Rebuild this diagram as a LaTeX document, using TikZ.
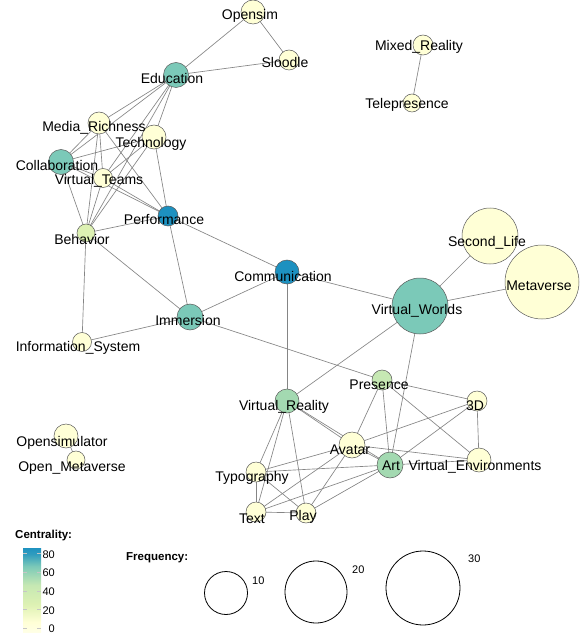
\documentclass[tikz,border=0pt]{standalone}
\usepackage{fontspec}
\setmainfont{Liberation Sans}
\usetikzlibrary{backgrounds}
\definecolor{cY}{HTML}{FFFFD6}
\definecolor{cBeh}{HTML}{DDF1B3}
\definecolor{cPre}{HTML}{C6E8B3}
\definecolor{cGr}{HTML}{A3D9B1}
\definecolor{cTeal}{HTML}{7BC9B8}
\definecolor{cBlue}{HTML}{1D91C0}
\definecolor{edgec}{HTML}{858585}
\definecolor{nodeline}{HTML}{5A5A5A}
\pgfdeclareverticalshading{cbar}{18pt}{
  color(0pt)=(cY!60!white); color(10pt)=(cY); color(28pt)=(cBeh); color(47pt)=(cPre); color(66pt)=(cTeal); color(78pt)=(cBlue!80!cTeal); color(85pt)=(cBlue)}
\tikzset{
  vn/.style 2 args={circle,draw=nodeline,fill=#2,minimum size=#1pt,inner sep=0pt,line width=0.5pt},
  lab/.style={anchor=base,inner sep=0pt,font=\fontsize{14}{14}\selectfont,text=black},
  edge/.style={draw=edgec,line width=0.65pt},
  legt/.style={inner sep=0pt,font=\fontsize{11.5}{11.5}\selectfont\bfseries},
  legn/.style={inner sep=0pt,font=\fontsize{11}{11}\selectfont,anchor=base},
  legc/.style={circle,draw=black,line width=0.8pt,inner sep=0pt,minimum size=#1pt}
}
\begin{document}
\begin{tikzpicture}[x=1pt,y=-1pt]
\useasboundingbox (0,0) rectangle (583,636);
\begin{scope}[on background layer]
\fill[white] (0,0) rectangle (583,636);
\end{scope}
% circles
\node[vn={24}{cY}] (opensim) at (253,12) {};
\node[vn={20}{cY}] (sloodle) at (289,60) {};
\node[vn={25}{cTeal}] (education) at (176,75) {};
\node[vn={22}{cY}] (mediarich) at (99,123) {};
\node[vn={24}{cY}] (technology) at (154,137) {};
\node[vn={25}{cTeal}] (collab) at (61,162) {};
\node[vn={19}{cY}] (vteams) at (103,178) {};
\node[vn={20}{cBlue}] (performance) at (168,216) {};
\node[vn={18}{cBeh}] (behavior) at (86,233) {};
\node[vn={26}{cTeal}] (immersion) at (190,317) {};
\node[vn={24}{cBlue}] (communication) at (287,272) {};
\node[vn={19}{cY}] (infosys) at (82,342) {};
\node[vn={56}{cY}] (secondlife) at (490,236) {};
\node[vn={74}{cY}] (metaverse) at (542,282) {};
\node[vn={56}{cTeal}] (vworlds) at (420,306) {};
\node[vn={20}{cPre}] (presence) at (382,380) {};
\node[vn={20}{cY}] (threed) at (477,401) {};
\node[vn={24}{cGr}] (vreality) at (287,401) {};
\node[vn={26}{cY}] (avatar) at (352,445) {};
\node[vn={26}{cGr}] (art) at (390,465) {};
\node[vn={24}{cY}] (venv) at (479,460) {};
\node[vn={20}{cY}] (typography) at (256,472) {};
\node[vn={20}{cY}] (text) at (256,512) {};
\node[vn={20}{cY}] (play) at (306,513) {};
\node[vn={24}{cY}] (opensimulator) at (66,436) {};
\node[vn={18}{cY}] (openmeta) at (76,460) {};
\node[vn={20}{cY}] (mixedreal) at (423,45) {};
\node[vn={18}{cY}] (telepres) at (412,103) {};
% edges
\begin{scope}[on background layer]
\foreach \a/\b in {opensim/education,opensim/sloodle,sloodle/education,
  education/mediarich,education/collab,education/technology,education/vteams,education/behavior,
  mediarich/collab,mediarich/vteams,mediarich/behavior,mediarich/performance,
  collab/technology,collab/vteams,collab/behavior,collab/performance,
  technology/vteams,technology/behavior,technology/performance,
  vteams/behavior,vteams/performance,
  performance/behavior,performance/immersion,performance/communication,
  behavior/immersion,behavior/infosys,immersion/infosys,
  immersion/communication,immersion/presence,
  communication/vworlds,communication/vreality,
  vworlds/secondlife,vworlds/metaverse,vworlds/vreality,vworlds/art,
  presence/threed,presence/avatar,presence/art,presence/venv,
  threed/venv,threed/avatar,threed/art,
  vreality/avatar,vreality/art,vreality/typography,vreality/text,vreality/play,
  avatar/art,avatar/venv,avatar/typography,avatar/text,avatar/play,
  art/venv,art/typography,art/text,art/play,
  typography/text,typography/play,text/play,
  mixedreal/telepres,opensimulator/openmeta}
  \draw[edge] (\a.center) -- (\b.center);
\end{scope}
% labels
\node[lab] (l-opensim) at (250,19.5) {Opensim};
\node[lab] (l-sloodle) at (285,68) {Sloodle};
\node[lab] (l-education) at (172,84) {Education};
\node[lab] (l-mediarich) at (94,132) {Media\_Richness};
\node[lab] (l-technology) at (151,148) {Technology};
\node[lab] (l-collab) at (57,171) {Collaboration};
\node[lab] (l-vteams) at (99,185) {Virtual\_Teams};
\node[lab] (l-performance) at (164,224) {Performance};
\node[lab] (l-behavior) at (82,244) {Behavior};
\node[lab] (l-immersion) at (188,325) {Immersion};
\node[lab] (l-communication) at (283,281) {Communication};
\node[lab] (l-infosys) at (78,351) {Information\_System};
\node[lab] (l-secondlife) at (487,246) {Second\_Life};
\node[lab] (l-metaverse) at (539,290) {Metaverse};
\node[lab] (l-vworlds) at (417,314) {Virtual\_Worlds};
\node[lab] (l-presence) at (379,389) {Presence};
\node[lab] (l-threed) at (475,410) {3D};
\node[lab] (l-vreality) at (284,410) {Virtual\_Reality};
\node[lab] (l-avatar) at (350,454) {Avatar};
\node[lab] (l-art) at (391,470) {Art};
\node[lab] (l-venv) at (475,470) {Virtual\_Environments};
\node[lab] (l-typography) at (252,481) {Typography};
\node[lab] (l-text) at (252,523) {Text};
\node[lab] (l-play) at (303,520) {Play};
\node[lab] (l-opensimulator) at (62,446) {Opensimulator};
\node[lab] (l-openmeta) at (72,471) {Open\_Metaverse};
\node[lab] (l-mixedreal) at (419,51) {Mixed\_Reality};
\node[lab] (l-telepres) at (407,109) {Telepresence};
% legend: centrality
\node[legt,anchor=base west] (centt) at (15,538) {Centrality:};
\node[inner sep=0pt,anchor=north west] (cbar) at (23,547) {\pgfuseshading{cbar}};
\foreach \v/\yy in {80/553.5,60/572.2,40/590.9,20/609.6,0/628.3}{
  \draw[gray!45,line width=0.5pt] (23,\yy) -- (27,\yy);
  \draw[gray!45,line width=0.5pt] (37,\yy) -- (41,\yy);
  \node[legn,anchor=base east] at (55,\yy+4.5) {\v};
}
% legend: frequency
\node[legt,anchor=base west] (freqt) at (126,560) {Frequency:};
\node[legc={43}] (f10) at (226,593) {};
\node[legc={62}] (f20) at (316,592) {};
\node[legc={74}] (f30) at (423,588) {};
\node[legn,anchor=base west] (f10l) at (252,584) {10};
\node[legn,anchor=base west] (f20l) at (352,573) {20};
\node[legn,anchor=base west] (f30l) at (468,562) {30};
\end{tikzpicture}
\end{document}
